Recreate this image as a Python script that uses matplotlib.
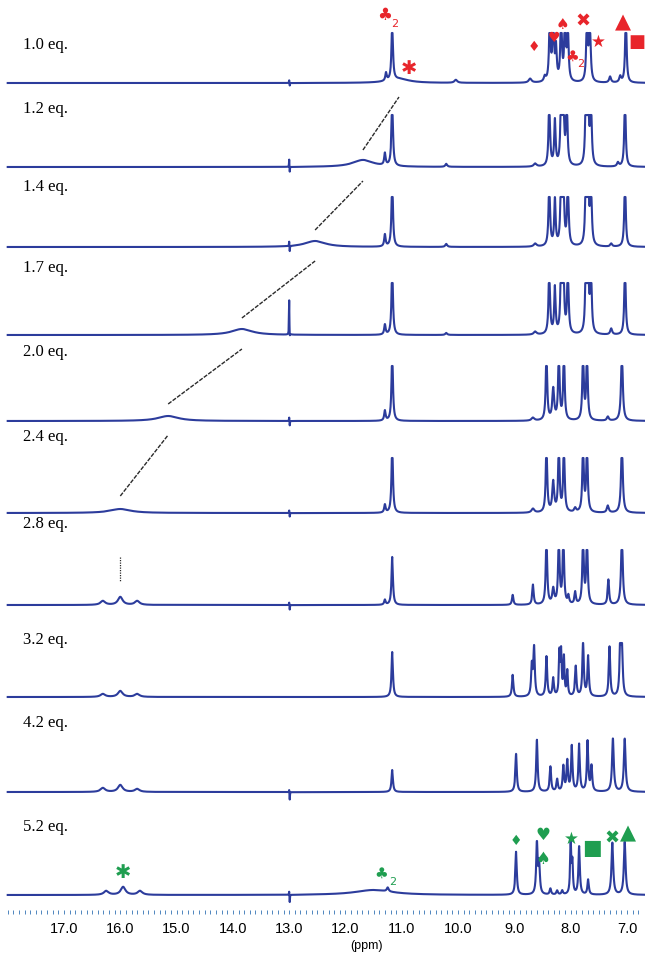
import numpy as np
import matplotlib.pyplot as plt

# titration steps, top to bottom
labels = ['1.0 eq.', '1.2 eq.', '1.4 eq.', '1.7 eq.', '2.0 eq.',
          '2.4 eq.', '2.8 eq.', '3.2 eq.', '4.2 eq.', '5.2 eq.']

# moving broad NH signal (ppm, height) for the first six traces
broad_shift = [11.05, 11.69, 12.54, 13.84, 15.15, 16.0]
broad_height = [4, 7, 6, 6, 5, 4]

# peak lists: (ppm, height, half width)
peaks_1_0 = [(11.28, 8, .015), (11.17, 60, .015), (10.04, 3, .03), (8.72, 4, .03),
             (8.46, 5, .02), (8.37, 70, .015), (8.31, 70, .015), (8.26, 32, .015),
             (8.17, 70, .015), (8.10, 70, .015), (8.05, 55, .015), (7.71, 70, .015),
             (7.66, 70, .015), (7.30, 6, .02), (7.12, 6, .02), (7.02, 70, .015),
             (13.0, 3, .004), (12.99, -3, .004)]
peaks_1_2 = [(11.30, 12, .015), (11.17, 70, .015), (10.21, 3, .02), (8.63, 3, .03),
             (8.38, 70, .015), (8.28, 45, .015), (8.17, 70, .015), (8.13, 70, .015),
             (8.07, 70, .015), (7.73, 70, .015), (7.69, 70, .015), (7.64, 70, .015),
             (7.16, 4, .02), (7.035, 70, .015), (13.0, 8, .004), (12.99, -6, .004)]
peaks_1_4 = [(11.30, 12, .015), (11.17, 70, .015), (10.21, 3, .02), (8.63, 3, .03),
             (8.38, 70, .015), (8.28, 46, .015), (8.17, 70, .015), (8.13, 70, .015),
             (8.05, 70, .015), (7.73, 70, .015), (7.69, 70, .015), (7.64, 70, .015),
             (7.28, 3, .02), (7.035, 70, .015), (13.0, 5, .004), (12.99, -6, .004)]
peaks_1_7 = [(11.30, 10, .015), (11.17, 70, .015), (10.21, 2, .02), (8.63, 3, .03),
             (8.38, 70, .015), (8.28, 46, .015), (8.17, 70, .015), (8.13, 70, .015),
             (8.05, 70, .015), (7.73, 70, .015), (7.69, 70, .015), (7.64, 70, .015),
             (7.28, 6, .02), (7.035, 70, .015), (13.0, 35, .004), (12.99, -5, .004)]
peaks_2_0 = [(11.30, 10, .015), (11.17, 70, .015), (8.67, 3, .03), (8.43, 70, .015),
             (8.31, 31, .02), (8.21, 70, .015), (8.12, 70, .015), (7.78, 70, .015),
             (7.71, 70, .015), (7.34, 4, .02), (7.09, 70, .018),
             (13.0, 4, .004), (12.99, -5, .004)]
peaks_2_4 = [(11.30, 8, .015), (11.17, 70, .015), (8.67, 4, .03), (8.43, 70, .015),
             (8.31, 30, .02), (8.21, 70, .015), (8.12, 70, .015), (7.92, 4, .02),
             (7.78, 70, .015), (7.71, 70, .015), (7.34, 7, .02), (7.09, 70, .018),
             (13.0, 3, .004), (12.99, -4, .004)]
peaks_2_8 = [(16.31, 4, .05), (16.0, 8, .05), (15.7, 4, .05), (11.30, 5, .015),
             (11.17, 48, .015), (9.03, 10, .015), (8.67, 20, .015), (8.43, 70, .015),
             (8.31, 15, .02), (8.21, 70, .015), (8.13, 70, .015), (8.04, 8, .015),
             (7.92, 12, .015), (7.78, 70, .015), (7.71, 70, .015), (7.33, 25, .015),
             (7.09, 70, .018), (13.0, 3, .004), (12.99, -5, .004)]
peaks_3_2 = [(16.31, 3, .05), (16.0, 6, .05), (15.7, 3, .05), (11.17, 45, .015),
             (9.03, 22, .015), (8.69, 30, .015), (8.65, 48, .015), (8.43, 40, .015),
             (8.31, 18, .015), (8.20, 42, .012), (8.17, 42, .012), (8.12, 38, .012),
             (8.06, 25, .012), (7.91, 30, .015), (7.78, 54, .015), (7.69, 40, .015),
             (7.31, 50, .015), (7.12, 52, .015), (7.09, 52, .015)]
peaks_4_2 = [(16.31, 4, .05), (16.0, 7, .05), (15.7, 3, .05), (11.17, 22, .015),
             (8.97, 38, .015), (8.60, 52, .015), (8.36, 25, .015), (8.24, 12, .015),
             (8.13, 25, .015), (8.06, 30, .015), (7.98, 45, .015), (7.85, 47, .015),
             (7.70, 50, .015), (7.63, 25, .015), (7.25, 53, .018), (7.04, 53, .018),
             (13.0, 3, .004), (12.99, -8, .004)]
peaks_5_2 = [(16.25, 4, .05), (15.95, 8, .05), (15.65, 4, .05), (11.5, 5, .4),
             (11.25, 4, .02), (8.97, 43, .015), (8.60, 52, .015), (8.56, 30, .015),
             (8.36, 6, .015), (8.24, 4, .015), (8.15, 4, .015), (8.00, 52, .012),
             (7.97, 30, .012), (7.85, 48, .015), (7.69, 15, .015), (7.26, 52, .018),
             (7.04, 53, .018), (13.0, 4, .004), (12.99, -8, .004)]

spectra = [peaks_1_0, peaks_1_2, peaks_1_4, peaks_1_7, peaks_2_0,
           peaks_2_4, peaks_2_8, peaks_3_2, peaks_4_2, peaks_5_2]

# layout (pixel rows of the 645x956 canvas)
baselines = [83, 167, 247, 335, 421, 513, 605, 697, 792, 895]
label_y = [45, 109, 187, 268, 352, 437, 524, 640, 723, 827]
clip = [50, 52, 50, 52, 55, 55, 55, 54, 54, 54]

blue = '#2c3c9c'
red = '#e8252b'
green = '#1f9e50'

ppm = np.linspace(6.68, 18.0, 8000)


def lorentz(x, peaks):
    y = np.zeros_like(x)
    for pos, h, w in peaks:
        y += h * w ** 2 / ((x - pos) ** 2 + w ** 2)
    return y


fig = plt.figure(figsize=(6.45, 9.56), dpi=100)
ax = fig.add_axes([0, 0, 1, 1])
ax.set_xlim(18.137, 6.68)
ax.set_ylim(956, 0)
ax.axis('off')

for i, peaks in enumerate(spectra):
    sig = lorentz(ppm, peaks)
    if i < len(broad_shift):
        sig += lorentz(ppm, [(broad_shift[i], broad_height[i], 0.22)])
    sig = np.minimum(sig, clip[i])
    ax.plot(ppm, baselines[i] - sig, color=blue, lw=1.5)
    ax.text(17.73, label_y[i], labels[i], family='Liberation Serif',
            fontsize=12, va='center', ha='left')

# dashed guide lines following the broad signal
for i in range(len(broad_shift) - 1):
    ax.plot([broad_shift[i + 1], broad_shift[i]],
            [baselines[i + 1] - 17, baselines[i] + 14],
            color='#2a2a2a', lw=1.0, ls=(0, (3, 1)))
ax.plot([16.0, 16.0], [557, 581], color='#2a2a2a', lw=0.9, ls=(0, (1, 1)))

# ppm axis
minor = np.arange(68, 181) / 10
ax.vlines(minor, 910, 914, color='#4f86bf', lw=0.7)
for v in range(7, 18):
    ax.text(v, 929, f'{v:.1f}', family='Liberation Sans', fontsize=10.5,
            ha='center', va='center')
ax.text(11.63, 946, '(ppm)', family='Liberation Sans', fontsize=9,
        ha='center', va='center')

# peak assignment symbols
red_marks = [('♣', 11.30, 15, 12), ('✱', 10.87, 68, 14), ('♦', 8.65, 47, 10),
             ('♥', 8.29, 38, 10), ('♠', 8.14, 24, 11), ('♣', 7.98, 56, 11),
             ('✖', 7.78, 22, 13), ('★', 7.50, 42, 12), ('▲', 7.07, 22, 15),
             ('■', 6.82, 42, 13)]
green_marks = [('♦', 8.97, 841, 10), ('♥', 8.49, 835, 12), ('♠', 8.49, 859, 12),
               ('★', 7.99, 839, 12), ('■', 7.62, 848, 15), ('✖', 7.27, 839, 13),
               ('▲', 6.98, 833, 15), ('✱', 15.95, 872, 14), ('♣', 11.37, 873, 11)]
for s, x, y, fs in red_marks:
    ax.text(x, y, s, color=red, fontsize=fs, ha='center', va='center')
for s, x, y, fs in green_marks:
    ax.text(x, y, s, color=green, fontsize=fs, ha='center', va='center')
ax.text(11.12, 24, '2', color=red, fontsize=8, ha='center', va='center')
ax.text(7.82, 64, '2', color=red, fontsize=8, ha='center', va='center')
ax.text(11.17, 882, '2', color=green, fontsize=8, ha='center', va='center')

fig.savefig('out.png', dpi=100)
